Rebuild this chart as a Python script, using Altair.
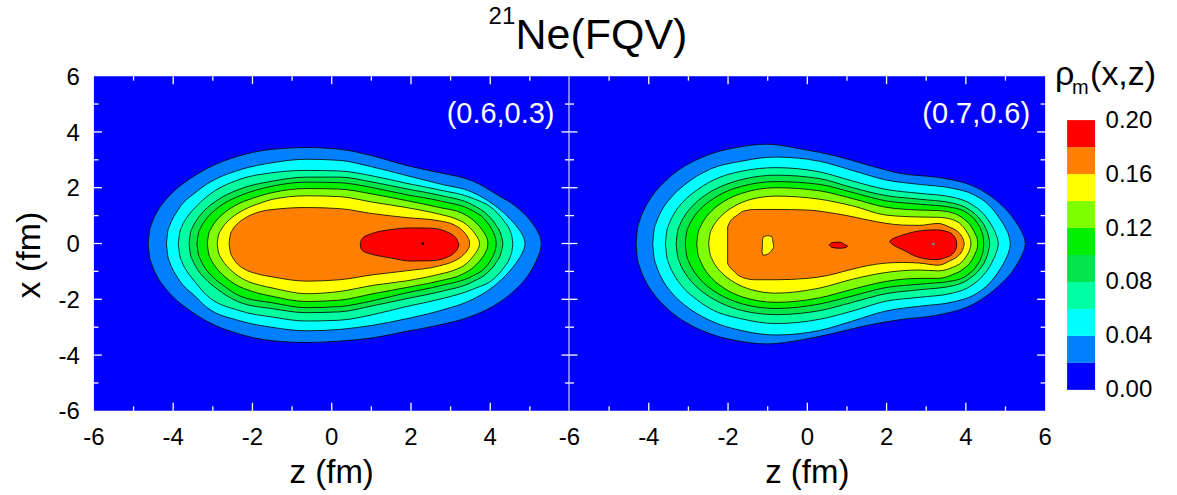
import altair as alt
import pandas as pd

W, H = 476, 335
FONT = "Liberation Sans"

# axis ranges and ticks (fm)
Z_RANGE = [-6, 6]
X_RANGE = [-6, 6]
MAJOR_TICKS = [-4, -2, 0, 2, 4]
MINOR_TICKS = [-5, -3, -1, 1, 3, 5]
Y_LABELS = [-6, -4, -2, 0, 2, 4, 6]
Z_LABELS_LEFT = [-6, -4, -2, 0, 2, 4]
Z_LABELS_RIGHT = [-6, -4, -2, 0, 2, 4, 6]
Z_TITLE = "z (fm)"
X_TITLE = "x (fm)"

# colour bands of rho_m (lower edge, upper edge)
BAND_LO = [0.00, 0.02, 0.04, 0.06, 0.08, 0.10, 0.12, 0.14, 0.16, 0.18]
BAND_HI = [0.02, 0.04, 0.06, 0.08, 0.10, 0.12, 0.14, 0.16, 0.18, 0.20]
BAND_COLORS = ["#0000FF", "#0080FF", "#00FFFF", "#00FFA0", "#00E64C",
               "#00F000", "#80FF00", "#FFFF00", "#FF8000", "#FF0000"]
CB_TICKS = [0.00, 0.04, 0.08, 0.12, 0.16, 0.20]

# ---------------- left panel (0.6,0.3): regions with rho >= level ----------------
# z (fm), upper x (fm), lower x (fm)
L02 = dict(z=[-4.63, -4.6, -4.55, -4.42, -4.2, -4.0, -3.6, -3.16, -2.32, -1.48, -0.6, 0.2, 1.04, 1.88, 2.72, 3.56, 4.23, 4.6, 4.9, 5.1, 5.22, 5.27, 5.29],
           top=[0, 0.42, 0.68, 1.1, 1.55, 1.85, 2.3, 2.68, 3.15, 3.38, 3.44, 3.38, 3.14, 2.8, 2.54, 2.24, 1.7, 1.38, 1.0, 0.65, 0.36, 0.18, 0],
           bot=[0, -0.43, -0.7, -1.14, -1.6, -1.92, -2.38, -2.78, -3.25, -3.49, -3.55, -3.5, -3.38, -3.15, -2.92, -2.59, -2.11, -1.7, -1.25, -0.8, -0.42, -0.2, 0])
L04 = dict(z=[-4.17, -4.14, -4.08, -3.95, -3.75, -3.5, -3.16, -2.32, -1.48, -0.64, 0.2, 1.04, 1.88, 2.72, 3.56, 4.1, 4.45, 4.7, 4.82, 4.86, 4.88],
           top=[0, 0.39, 0.67, 1.04, 1.45, 1.76, 2.12, 2.64, 2.9, 3.02, 2.98, 2.74, 2.44, 2.14, 1.83, 1.38, 0.95, 0.55, 0.28, 0.14, 0],
           bot=[0, -0.4, -0.7, -1.08, -1.5, -1.82, -2.28, -2.77, -3.01, -3.13, -3.08, -2.93, -2.7, -2.41, -2.0, -1.52, -1.05, -0.6, -0.3, -0.15, 0])
L06 = dict(z=[-3.87, -3.84, -3.78, -3.65, -3.45, -3.16, -2.32, -1.48, -0.64, 0.2, 1.04, 1.88, 2.72, 3.56, 4.1, 4.35, 4.5, 4.55, 4.57],
           top=[0, 0.35, 0.61, 0.94, 1.28, 1.67, 2.3, 2.54, 2.62, 2.6, 2.42, 2.16, 1.92, 1.62, 1.2, 0.8, 0.45, 0.22, 0],
           bot=[0, -0.37, -0.65, -1.0, -1.37, -1.85, -2.41, -2.64, -2.78, -2.75, -2.55, -2.26, -2.0, -1.64, -1.25, -0.85, -0.48, -0.24, 0])
L08 = dict(z=[-3.6, -3.57, -3.51, -3.4, -3.2, -2.9, -2.32, -1.48, -0.64, 0.2, 1.04, 1.88, 2.72, 3.56, 3.95, 4.15, 4.27, 4.3, 4.32],
           top=[0, 0.34, 0.58, 0.86, 1.2, 1.54, 1.95, 2.24, 2.38, 2.38, 2.2, 1.96, 1.73, 1.38, 1.0, 0.65, 0.32, 0.16, 0],
           bot=[0, -0.35, -0.6, -0.9, -1.25, -1.62, -2.11, -2.34, -2.48, -2.45, -2.23, -1.98, -1.73, -1.37, -1.02, -0.68, -0.34, -0.17, 0])
L10 = dict(z=[-3.4, -3.37, -3.31, -3.2, -3.0, -2.7, -2.32, -1.48, -0.64, 0.2, 1.04, 1.88, 2.72, 3.56, 3.85, 4.02, 4.11, 4.14, 4.15],
           top=[0, 0.32, 0.55, 0.82, 1.13, 1.45, 1.71, 2.06, 2.2, 2.18, 2.0, 1.75, 1.53, 1.17, 0.88, 0.55, 0.28, 0.14, 0],
           bot=[0, -0.34, -0.58, -0.87, -1.2, -1.54, -1.88, -2.13, -2.3, -2.26, -2.05, -1.77, -1.52, -1.16, -0.9, -0.58, -0.3, -0.15, 0])
L12 = dict(z=[-3.14, -3.11, -3.05, -2.95, -2.75, -2.45, -2.0, -1.48, -0.64, 0.2, 1.04, 1.88, 2.72, 3.3, 3.6, 3.8, 3.9, 3.93, 3.94],
           top=[0, 0.3, 0.52, 0.75, 1.05, 1.35, 1.62, 1.83, 1.97, 1.95, 1.77, 1.54, 1.29, 1.08, 0.8, 0.48, 0.24, 0.12, 0],
           bot=[0, -0.32, -0.56, -0.8, -1.12, -1.45, -1.72, -1.9, -2.08, -2.03, -1.8, -1.58, -1.34, -1.1, -0.82, -0.5, -0.25, -0.12, 0])
L14 = dict(z=[-2.89, -2.86, -2.8, -2.7, -2.5, -2.2, -1.8, -1.48, -0.64, 0.2, 1.04, 1.88, 2.72, 3.1, 3.4, 3.6, 3.69, 3.72, 3.73],
           top=[0, 0.28, 0.47, 0.68, 0.95, 1.22, 1.45, 1.59, 1.71, 1.68, 1.48, 1.29, 1.05, 0.9, 0.68, 0.38, 0.18, 0.08, 0],
           bot=[0, -0.3, -0.5, -0.72, -1.01, -1.3, -1.5, -1.6, -1.8, -1.72, -1.5, -1.34, -1.1, -0.95, -0.72, -0.4, -0.2, -0.09, 0])
L16 = dict(z=[-2.59, -2.56, -2.5, -2.4, -2.2, -1.9, -1.48, -0.64, 0.2, 1.04, 1.88, 2.72, 3.1, 3.33, 3.44, 3.47, 3.48],
           top=[0, 0.3, 0.5, 0.68, 0.9, 1.1, 1.22, 1.29, 1.25, 1.07, 0.93, 0.81, 0.66, 0.42, 0.2, 0.1, 0],
           bot=[0, -0.3, -0.5, -0.7, -0.92, -1.08, -1.2, -1.35, -1.3, -1.12, -0.98, -0.8, -0.62, -0.4, -0.2, -0.1, 0])
L18 = dict(z=[0.72, 0.74, 0.8, 1.0, 1.5, 2.0, 2.5, 2.9, 3.08, 3.17, 3.21],
           top=[-0.05, 0.1, 0.22, 0.35, 0.5, 0.56, 0.55, 0.42, 0.27, 0.12, -0.05],
           bot=[-0.05, -0.18, -0.28, -0.38, -0.52, -0.63, -0.62, -0.5, -0.35, -0.2, -0.05])
L_PEAK = dict(z=[2.3], x=[0.0])

# ---------------- right panel (0.7,0.6) ----------------
R02 = dict(z=[-4.32, -4.29, -4.23, -4.1, -3.9, -3.48, -2.64, -1.8, -1.0, -0.12, 0.72, 1.56, 2.4, 3.24, 3.66, 4.08, 4.5, 4.92, 5.2, 5.38, 5.46, 5.49, 5.5],
           top=[0, 0.48, 0.82, 1.27, 1.73, 2.37, 3.1, 3.44, 3.56, 3.38, 3.14, 2.8, 2.5, 2.38, 2.28, 2.12, 1.82, 1.35, 0.9, 0.5, 0.25, 0.12, 0],
           bot=[0, -0.5, -0.84, -1.3, -1.76, -2.4, -3.13, -3.48, -3.6, -3.45, -3.2, -2.92, -2.72, -2.58, -2.45, -2.25, -1.9, -1.4, -0.95, -0.52, -0.26, -0.13, 0])
R04 = dict(z=[-3.9, -3.87, -3.81, -3.68, -3.45, -3.1, -2.47, -1.63, -0.79, 0.3, 1.14, 1.98, 2.82, 3.66, 4.2, 4.6, 4.85, 5.02, 5.09, 5.11, 5.12],
           top=[0, 0.44, 0.75, 1.17, 1.63, 2.1, 2.65, 2.96, 3.1, 2.95, 2.62, 2.28, 2.12, 1.98, 1.75, 1.35, 0.9, 0.5, 0.25, 0.12, 0],
           bot=[0, -0.46, -0.79, -1.23, -1.72, -2.2, -2.75, -3.13, -3.28, -3.12, -2.78, -2.42, -2.25, -2.1, -1.85, -1.42, -0.95, -0.52, -0.26, -0.13, 0])
R06 = dict(z=[-3.58, -3.55, -3.49, -3.37, -3.15, -2.8, -2.47, -1.63, -0.79, 0.3, 1.14, 1.98, 2.82, 3.66, 4.15, 4.45, 4.65, 4.76, 4.8, 4.82],
           top=[0, 0.4, 0.69, 1.05, 1.47, 1.9, 2.2, 2.6, 2.72, 2.57, 2.24, 1.94, 1.8, 1.66, 1.4, 1.05, 0.65, 0.33, 0.16, 0],
           bot=[0, -0.42, -0.73, -1.1, -1.55, -2.0, -2.32, -2.71, -2.87, -2.72, -2.42, -2.07, -1.93, -1.78, -1.5, -1.12, -0.7, -0.35, -0.17, 0])
R08 = dict(z=[-3.31, -3.28, -3.22, -3.1, -2.9, -2.6, -2.2, -1.63, -0.79, 0.3, 1.14, 1.98, 2.82, 3.66, 4.1, 4.35, 4.5, 4.57, 4.59, 4.6],
           top=[0, 0.38, 0.65, 0.98, 1.34, 1.71, 2.03, 2.3, 2.45, 2.33, 2.0, 1.72, 1.59, 1.45, 1.2, 0.88, 0.55, 0.27, 0.13, 0],
           bot=[0, -0.4, -0.68, -1.02, -1.4, -1.78, -2.12, -2.41, -2.55, -2.41, -2.11, -1.8, -1.66, -1.52, -1.25, -0.92, -0.58, -0.28, -0.14, 0])
R10 = dict(z=[-3.08, -3.05, -2.99, -2.88, -2.68, -2.4, -2.0, -1.63, -0.79, 0.3, 1.14, 1.98, 2.82, 3.66, 4.05, 4.28, 4.4, 4.44, 4.45],
           top=[0, 0.36, 0.62, 0.91, 1.26, 1.58, 1.89, 2.06, 2.22, 2.12, 1.83, 1.53, 1.41, 1.29, 1.08, 0.75, 0.42, 0.2, 0],
           bot=[0, -0.38, -0.65, -0.95, -1.32, -1.66, -1.98, -2.17, -2.33, -2.17, -1.88, -1.58, -1.46, -1.34, -1.12, -0.78, -0.44, -0.21, 0])
R12 = dict(z=[-2.79, -2.76, -2.7, -2.6, -2.4, -2.1, -1.63, -0.79, 0.3, 1.14, 1.98, 2.82, 3.3, 3.66, 3.95, 4.15, 4.25, 4.29, 4.3],
           top=[0, 0.35, 0.59, 0.85, 1.19, 1.51, 1.81, 2.0, 1.89, 1.61, 1.3, 1.2, 1.18, 1.1, 0.88, 0.58, 0.3, 0.15, 0],
           bot=[0, -0.37, -0.62, -0.9, -1.26, -1.6, -1.92, -2.11, -1.95, -1.64, -1.36, -1.25, -1.25, -1.12, -0.9, -0.6, -0.31, -0.15, 0])
R14 = dict(z=[-2.49, -2.46, -2.4, -2.3, -2.1, -1.8, -1.4, -0.79, 0.3, 1.14, 1.98, 2.82, 3.3, 3.66, 3.9, 4.03, 4.1, 4.12, 4.13],
           top=[0, 0.32, 0.55, 0.78, 1.08, 1.37, 1.59, 1.7, 1.59, 1.35, 1.02, 0.95, 0.94, 0.86, 0.65, 0.4, 0.2, 0.1, 0],
           bot=[0, -0.33, -0.57, -0.82, -1.13, -1.43, -1.66, -1.78, -1.6, -1.28, -1.04, -0.95, -0.98, -0.86, -0.66, -0.42, -0.21, -0.1, 0])
R16 = dict(z=[-2.01, -1.95, -1.88, -1.76, -1.63, -1.3, -0.79, 0.0, 0.5, 1.0, 1.5, 2.0, 2.4, 2.82, 3.3, 3.6, 3.8, 3.9, 3.94, 3.96],
           top=[0.6, 0.78, 0.9, 1.02, 1.15, 1.22, 1.22, 1.2, 1.12, 1.0, 0.85, 0.72, 0.66, 0.65, 0.72, 0.58, 0.42, 0.25, 0.12, 0],
           bot=[-0.72, -0.86, -0.95, -1.12, -1.22, -1.3, -1.3, -1.25, -1.15, -0.97, -0.8, -0.7, -0.68, -0.7, -0.78, -0.62, -0.45, -0.28, -0.14, 0])
R14_ISLAND = dict(z=[-1.14, -1.12, -1.0, -0.9, -0.85],
                  top=[-0.25, 0.22, 0.28, 0.25, -0.1],
                  bot=[-0.3, -0.42, -0.38, -0.25, -0.15])
R18 = dict(z=[2.08, 2.12, 2.2, 2.4, 2.82, 3.24, 3.5, 3.66, 3.73, 3.76, 3.77],
           top=[0.08, 0.14, 0.2, 0.3, 0.45, 0.49, 0.44, 0.33, 0.2, 0.08, -0.05],
           bot=[0.06, 0.0, -0.08, -0.22, -0.5, -0.58, -0.5, -0.38, -0.25, -0.15, -0.05])
R18_ISLAND = dict(z=[0.55, 0.62, 0.8, 0.95, 1.02],
                  top=[-0.06, 0.03, 0.05, -0.04, -0.1],
                  bot=[-0.06, -0.14, -0.17, -0.15, -0.1])
R_PEAK = dict(z=[3.18], x=[-0.02])

LEFT_LABEL = "(0.6,0.3)"
RIGHT_LABEL = "(0.7,0.6)"

XS = alt.Scale(domain=Z_RANGE, nice=False, zero=False)
YS = alt.Scale(domain=X_RANGE, nice=False, zero=False)


def band(c, color):
    df = pd.DataFrame({"z": c["z"], "top": c["top"], "bot": c["bot"]})
    return alt.Chart(df).mark_area(fill=color, stroke="black", strokeWidth=0.8,
                                   interpolate="monotone", opacity=1).encode(
        x=alt.X("z:Q", scale=XS, axis=None),
        y=alt.Y("top:Q", scale=YS, axis=None),
        y2="bot:Q")


def background():
    df = pd.DataFrame({"z0": [Z_RANGE[0]], "z1": [Z_RANGE[1]], "x0": [X_RANGE[0]], "x1": [X_RANGE[1]]})
    return alt.Chart(df).mark_rect(fill=BAND_COLORS[0]).encode(
        x=alt.X("z0:Q", scale=XS, axis=None), x2="z1:Q",
        y=alt.Y("x0:Q", scale=YS, axis=None), y2="x1:Q")


def x_tick_labels(vals):
    df = pd.DataFrame({"v": vals, "t": [str(v) for v in vals]})
    return alt.Chart(df).mark_text(font=FONT, fontSize=24, color="black", align="center",
                                   baseline="alphabetic").encode(
        x=alt.X("v:Q", scale=XS, axis=None), y=alt.value(H + 34), text="t:N")


def y_tick_labels(vals):
    df = pd.DataFrame({"v": vals, "t": [str(v) for v in vals]})
    return alt.Chart(df).mark_text(font=FONT, fontSize=24, color="black", align="right",
                                   baseline="alphabetic", dy=8.6).encode(
        y=alt.Y("v:Q", scale=YS, axis=None), x=alt.value(-14), text="t:N")


def ticks():
    layers = []
    for vals, ln in ((MAJOR_TICKS, 8), (MINOR_TICKS, 4.5)):
        df = pd.DataFrame({"v": vals})
        r = alt.Chart(df).mark_rule(color="white", strokeWidth=1.3)
        layers.append(r.encode(x=alt.X("v:Q", scale=XS, axis=None), y=alt.value(0), y2=alt.value(ln)))
        layers.append(r.encode(x=alt.X("v:Q", scale=XS, axis=None), y=alt.value(H), y2=alt.value(H - ln)))
        layers.append(r.encode(y=alt.Y("v:Q", scale=YS, axis=None), x=alt.value(0), x2=alt.value(ln)))
        layers.append(r.encode(y=alt.Y("v:Q", scale=YS, axis=None), x=alt.value(W), x2=alt.value(W - ln)))
    return layers


def peak(p, color):
    df = pd.DataFrame(p)
    return alt.Chart(df).mark_point(filled=True, shape="square", size=6, color=color, opacity=1).encode(
        x=alt.X("z:Q", scale=XS, axis=None), y=alt.Y("x:Q", scale=YS, axis=None))


def label(text, x, y, size, color="black", align="left", angle=0):
    df = pd.DataFrame({"t": [text]})
    return alt.Chart(df).mark_text(font=FONT, fontSize=size, color=color, align=align,
                                   baseline="alphabetic", angle=angle).encode(
        text="t:N", x=alt.value(x), y=alt.value(y))


left_layers = [background()]
for c, col in zip([L02, L04, L06, L08, L10, L12, L14, L16, L18], BAND_COLORS[1:]):
    left_layers.append(band(c, col))
left_layers.append(peak(L_PEAK, "black"))
left_layers += ticks()
left_layers.append(alt.Chart(pd.DataFrame({"v": [0]})).mark_rule(color="white", strokeWidth=2).encode(
    x=alt.value(W), y=alt.value(0), y2=alt.value(H)))
left_layers.append(label(LEFT_LABEL, W - 15, 47, 29, "white", "right"))
left_layers.append(x_tick_labels(Z_LABELS_LEFT))
left_layers.append(y_tick_labels(Y_LABELS))
left_layers.append(label(Z_TITLE, W / 2, H + 72, 33, align="center"))
left_layers.append(label(X_TITLE, -54, 179, 34, align="center", angle=270))
left_layers.append(label("21", 395, -52, 24))
left_layers.append(label("Ne(FQV)", 422, -27, 43))
left = alt.layer(*left_layers).properties(width=W, height=H)

right_layers = [background()]
for c, col in zip([R02, R04, R06, R08, R10, R12, R14, R16], BAND_COLORS[1:9]):
    right_layers.append(band(c, col))
right_layers.append(band(R14_ISLAND, BAND_COLORS[7]))
right_layers.append(band(R18, BAND_COLORS[9]))
right_layers.append(band(R18_ISLAND, BAND_COLORS[9]))
right_layers.append(peak(R_PEAK, "#6f8f98"))
right_layers += ticks()
right_layers.append(label(RIGHT_LABEL, W - 15, 47, 29, "white", "right"))
right_layers.append(x_tick_labels(Z_LABELS_RIGHT))
right_layers.append(label(Z_TITLE, W / 2, H + 72, 33, align="center"))
right = alt.layer(*right_layers).properties(width=W, height=H)

cb_df = pd.DataFrame({"lo": BAND_LO, "hi": BAND_HI,
                      "band": [f"{a:.2f}-{b:.2f}" for a, b in zip(BAND_LO, BAND_HI)]})
cbar_rect = alt.Chart(cb_df).mark_rect().encode(
    x=alt.value(22), x2=alt.value(50),
    y=alt.Y("lo:Q", scale=alt.Scale(domain=[BAND_LO[0], BAND_HI[-1]], range=[314, 44], nice=False, zero=False),
            axis=alt.Axis(orient="right", values=CB_TICKS, format=".2f", ticks=False, domain=False,
                          grid=False, labelFont=FONT, labelFontSize=24, labelColor="black",
                          labelPadding=10, title=None)),
    y2="hi:Q",
    fill=alt.Fill("band:N", scale=alt.Scale(domain=list(cb_df["band"]), range=BAND_COLORS), legend=None))
cbar = alt.layer(
    cbar_rect,
    label("ρ", 10, 9, 34),
    label("m", 27, 18, 20),
    label("(x,z)", 45, 9, 34),
).properties(width=50, height=H)

chart = alt.hconcat(left, right, cbar, spacing=0, bounds="flush").properties(
    padding={"left": 13, "top": 5, "right": 20, "bottom": 4}
).configure_view(stroke=None)

chart.save("out.html", embed_options={"renderer": "svg", "actions": False})
